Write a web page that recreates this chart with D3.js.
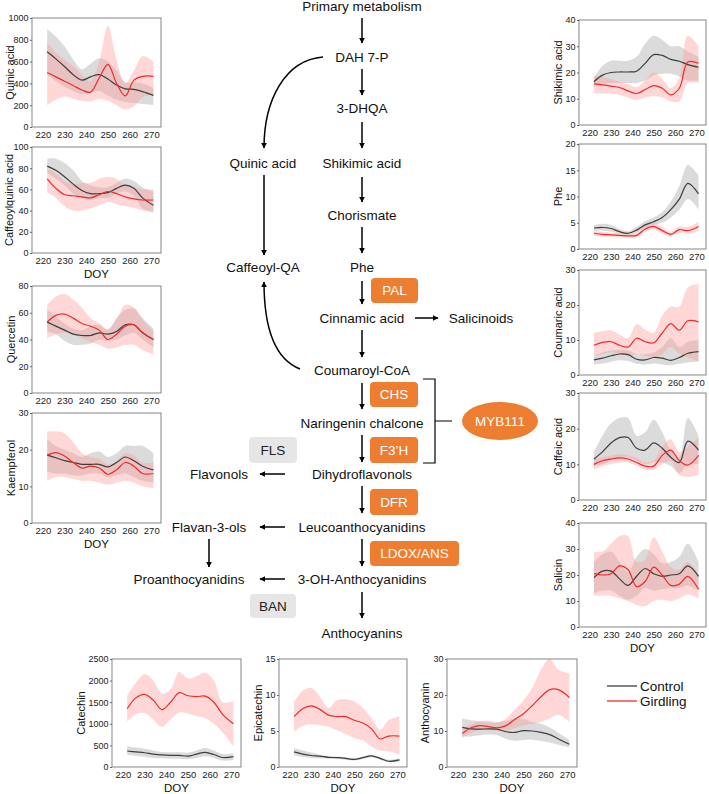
<!DOCTYPE html>
<html>
<head>
<meta charset="utf-8">
<script src="https://cdn.jsdelivr.net/npm/d3@7"></script>
<style>
  body { margin: 0; background: #fff; }
  text { font-family: "Liberation Sans", Arial, sans-serif; }
</style>
</head>
<body>
<div id="chart"></div>
<script>
// sampling days and axis ticks
const doy = [222, 226, 230, 234, 238, 242, 246, 250, 254, 258, 262, 266, 271];
const doyTicks = [220, 230, 240, 250, 260, 270];

// Quinic acid
const quinicTicks = [0, 200, 400, 600, 800, 1000];
const quinicCtrl   = [690, 625, 555, 480, 430, 460, 480, 440, 385, 350, 345, 325, 290];
const quinicCtrlLo = [480, 420, 370, 330, 300, 320, 330, 290, 250, 230, 220, 210, 200];
const quinicCtrlHi = [900, 830, 740, 620, 530, 580, 630, 600, 520, 410, 410, 400, 360];
const quinicGird   = [500, 460, 420, 380, 340, 320, 450, 575, 400, 285, 430, 465, 465];
const quinicGirdLo = [200, 250, 280, 260, 240, 235, 260, 240, 200, 160, 190, 270, 300];
const quinicGirdHi = [780, 680, 620, 560, 480, 420, 600, 930, 620, 400, 520, 650, 600];

// Caffeoylquinic acid
const cqaTicks = [0, 20, 40, 60, 80, 100];
const cqaCtrl   = [82, 78, 72, 65, 59, 56, 56, 57, 61, 64, 61, 52, 45];
const cqaCtrlLo = [76, 70, 64, 56, 52, 50, 52, 52, 56, 58, 54, 42, 38];
const cqaCtrlHi = [89, 89, 85, 78, 68, 64, 62, 62, 66, 70, 68, 62, 58];
const cqaGird   = [70, 61, 55, 54, 53, 52, 55, 58, 56, 53, 51, 50, 50];
const cqaGirdLo = [57, 52, 44, 40, 40, 42, 45, 48, 46, 44, 43, 40, 40];
const cqaGirdHi = [80, 75, 68, 65, 66, 66, 70, 72, 70, 64, 62, 60, 60];

// Quercetin
const quercTicks = [0, 20, 40, 60, 80];
const quercCtrl   = [53, 50, 47, 44, 43, 43, 45, 44, 46, 51, 51, 45, 40];
const quercCtrlLo = [46, 44, 39, 36, 36, 37, 40, 39, 40, 43, 45, 40, 34];
const quercCtrlHi = [62, 57, 52, 48, 47, 50, 51, 47, 56, 62, 63, 56, 48];
const quercGird   = [53, 58, 59, 56, 52, 50, 47, 40, 44, 50, 51, 45, 40];
const quercGirdLo = [41, 44, 45, 44, 41, 38, 36, 33, 34, 36, 36, 32, 29];
const quercGirdHi = [66, 72, 74, 70, 64, 56, 52, 48, 55, 66, 64, 55, 46];

// Kaempferol
const kaempTicks = [0, 10, 20, 30];
const kaempCtrl   = [18.5, 17.8, 17, 16.5, 16, 16, 16, 15.3, 16.5, 18, 17, 15.5, 14.5];
const kaempCtrlLo = [14, 13.5, 13.5, 13, 13, 13.5, 13.5, 12.5, 13, 13.5, 12.5, 11.5, 11];
const kaempCtrlHi = [23, 21, 20, 19, 18, 19, 19.5, 18, 19, 21, 21, 21, 19];
const kaempGird   = [18.5, 19.2, 18.3, 16.5, 15, 15.5, 15, 13.3, 14.5, 16.5, 15.5, 13.5, 13.5];
const kaempGirdLo = [11.5, 12.5, 12.5, 12, 11.5, 11.5, 11, 10.5, 11, 11.5, 11, 10, 9.5];
const kaempGirdHi = [25, 25, 24.5, 22, 19, 18, 17.5, 16, 17, 19, 18.5, 16.5, 16.5];

// Shikimic acid
const shikTicks = [0, 10, 20, 30, 40];
const shikCtrl   = [16.5, 19, 20, 20.2, 20.2, 20.5, 23.5, 26.8, 26.5, 25, 24.3, 23, 22];
const shikCtrlLo = [14.5, 15.5, 16, 16, 16, 16, 17, 19, 19.5, 19.5, 18.5, 17, 17];
const shikCtrlHi = [18, 22.5, 24.5, 24.5, 24.5, 26, 31, 34, 32.5, 30, 30, 28, 26];
const shikGird   = [15.7, 15.3, 14.8, 14.3, 13, 12, 13.5, 15, 14, 11.5, 14, 24, 23.5];
const shikGirdLo = [12, 12, 12, 11.5, 10.5, 9.5, 10.5, 11, 10.5, 9, 9, 16, 16];
const shikGirdHi = [19, 18.5, 17.5, 16.5, 15.5, 14.5, 17, 20, 17.5, 14, 18, 34, 30];

// Phe
const pheTicks = [0, 5, 10, 15, 20];
const pheCtrl   = [4, 4.1, 3.9, 3.3, 3.0, 3.6, 4.6, 5.2, 6, 7.5, 9.5, 12.5, 10.5];
const pheCtrlLo = [3.4, 3.5, 3.3, 2.9, 2.7, 3.1, 4, 4.6, 5, 6, 7.5, 9.5, 7.5];
const pheCtrlHi = [4.5, 4.8, 4.6, 3.8, 3.4, 4.2, 5.3, 6, 7, 9, 12, 16, 14];
const pheGird   = [3, 2.8, 2.7, 2.6, 2.5, 2.6, 3.8, 4.3, 3.5, 2.8, 3.7, 3.5, 4.3];
const pheGirdLo = [2.5, 2.4, 2.3, 2.2, 2.2, 2.2, 3.2, 3.7, 2.9, 2.4, 3.1, 2.9, 3.5];
const pheGirdHi = [3.5, 3.3, 3.1, 3, 2.9, 3, 4.3, 5, 4.2, 3.3, 4.3, 4.2, 5.2];

// Coumaric acid
const coumTicks = [0, 10, 20, 30];
const coumCtrl   = [4.3, 4.8, 5.5, 6, 5.8, 4.5, 4.3, 5, 4.8, 4.2, 5, 6.2, 6.7];
const coumCtrlLo = [3, 3.3, 3.8, 4.2, 4, 3.2, 3, 3.3, 3, 2.8, 3.2, 3.6, 3.8];
const coumCtrlHi = [5.5, 6.5, 7, 7.2, 7, 6, 6, 6.5, 8, 10.5, 8, 9.5, 10];
const coumGird   = [8.5, 9.3, 9.5, 8.5, 8, 10.5, 9.5, 9.2, 12, 14.7, 12.8, 15.5, 15.2];
const coumGirdLo = [5.5, 6, 6.5, 6, 5.5, 6, 5.5, 5, 6, 8, 6, 5, 4];
const coumGirdHi = [12, 12.5, 12.8, 11.5, 10.5, 14.5, 13, 12, 17, 19.5, 19.5, 25, 26];

// Caffeic acid
const cafTicks = [0, 10, 20, 30];
const cafCtrl   = [11.5, 13.5, 16, 17.5, 17.5, 14.5, 14, 16, 14.5, 12, 10.5, 16.5, 14];
const cafCtrlLo = [9.5, 10, 11, 12, 12, 11, 10, 10.5, 10.5, 9.5, 7.5, 10, 10];
const cafCtrlHi = [13.5, 18, 21.5, 23, 23, 18, 19, 22.5, 19, 14, 12, 23, 18];
const cafGird   = [10, 11, 11.5, 11.8, 11.5, 10.5, 9.5, 9.5, 12.5, 14, 11, 9.8, 12.5];
const cafGirdLo = [8.5, 9.5, 10, 10.5, 10.5, 9.5, 8.5, 8.5, 10, 11, 7, 6.5, 7];
const cafGirdHi = [11.5, 12, 12.5, 12.8, 12.5, 11.8, 10.5, 11, 15, 17, 13.5, 15, 17.5];

// Salicin
const salTicks = [0, 10, 20, 30, 40];
const salCtrl   = [19, 21.5, 21.5, 18.5, 16, 19.5, 22.5, 20.5, 19.5, 20, 20.5, 23.5, 19.5];
const salCtrlLo = [13, 14, 14, 12, 10.5, 12, 15, 14, 14.5, 15, 15, 16, 14];
const salCtrlHi = [25, 28, 29, 25, 21, 27, 30, 28, 24.5, 25, 27, 32, 25];
const salGird   = [20.5, 20, 20.5, 23.5, 22, 15.5, 17.5, 23, 20, 16, 16.5, 19.5, 14.5];
const salGirdLo = [12, 12, 12, 11, 10, 8.5, 8, 10, 10.5, 10, 11, 12.5, 11];
const salGirdHi = [29, 29, 32, 35, 35, 25, 26, 34.5, 29, 23, 22, 25, 20];

// Catechin
const catTicks = [0, 500, 1000, 1500, 2000, 2500];
const catCtrl   = [370, 350, 330, 300, 280, 270, 270, 250, 300, 340, 290, 220, 240];
const catCtrlLo = [280, 260, 240, 210, 200, 190, 190, 180, 210, 250, 210, 150, 160];
const catCtrlHi = [480, 450, 420, 380, 350, 340, 340, 330, 380, 440, 380, 300, 320];
const catGird   = [1350, 1600, 1680, 1550, 1330, 1500, 1720, 1650, 1630, 1640, 1500, 1220, 1000];
const catGirdLo = [1050, 1220, 1250, 1100, 930, 1100, 1260, 1240, 1180, 1130, 1000, 800, 480];
const catGirdHi = [1650, 1950, 2150, 2000, 1700, 1800, 2200, 2050, 2100, 2180, 2000, 1500, 1520];

// Epicatechin
const epiTicks = [0, 5, 10, 15];
const epiCtrl   = [2.1, 1.8, 1.6, 1.5, 1.35, 1.3, 1.2, 1.05, 1.3, 1.55, 1.2, 0.8, 1.0];
const epiCtrlLo = [1.6, 1.4, 1.25, 1.2, 1.15, 1.1, 1.0, 0.9, 1.1, 1.35, 1.0, 0.65, 0.8];
const epiCtrlHi = [2.6, 2.3, 2.0, 1.7, 1.5, 1.45, 1.35, 1.2, 1.45, 1.7, 1.35, 1.0, 1.2];
const epiGird   = [7.0, 8.1, 8.5, 8.0, 7.2, 7.0, 7.0, 6.5, 6.1, 5.3, 3.9, 4.3, 4.3];
const epiGirdLo = [4.9, 5.7, 5.9, 5.8, 5.6, 5.1, 4.6, 4.0, 3.7, 2.8, 2.3, 2.2, 1.7];
const epiGirdHi = [9.1, 10.6, 11, 9.8, 8.2, 9.3, 9.4, 9.1, 8.2, 6.8, 5.2, 6.5, 7.0];

// Anthocyanin
const anthTicks = [0, 10, 20, 30];
const anthCtrl   = [11, 10.6, 10.5, 10.6, 10.5, 9.8, 9.6, 10.1, 10, 9.6, 9.0, 7.8, 6.3];
const anthCtrlLo = [8.5, 8.5, 8.8, 9, 8.8, 7.8, 7.3, 7.5, 7.6, 7.2, 6.8, 6.2, 5.5];
const anthCtrlHi = [13.5, 13, 12.8, 12.8, 12.5, 12.8, 13.5, 13.3, 12.5, 12, 11, 9.5, 7.5];
const anthGird   = [9.3, 10.9, 11.5, 11.2, 10.9, 11.5, 13.2, 14.8, 17, 19.5, 21.5, 21.5, 19.3];
const anthGirdLo = [8, 9.5, 10.3, 10.3, 10, 10, 10.8, 11.5, 12, 12.5, 13.5, 14.5, 12.5];
const anthGirdHi = [10.5, 11.8, 12.5, 12.3, 12.3, 13.5, 16, 18.5, 22, 27, 30, 27, 26];

const seriesNames = ["Control", "Girdling"];

const W = 709, H = 794;
const ctrlColor = "#3d3d3d", girdColor = "#f02a2a", orange = "#ed7d31";
const FONT = '"Liberation Sans", Arial, sans-serif';

const svg = d3.select("#chart").append("svg")
  .attr("width", W).attr("height", H);
svg.append("rect").attr("width", W).attr("height", H).attr("fill", "#fff");

// panel layout (position of plot box, label offset)
const panels = [
  {label: "Quinic acid", ticks: quinicTicks, c: [quinicCtrl, quinicCtrlLo, quinicCtrlHi], g: [quinicGird, quinicGirdLo, quinicGirdHi], x: 32, y: 18, w: 129, h: 109, doyLab: false, tdx: -22},
  {label: "Caffeoylquinic acid", ticks: cqaTicks, c: [cqaCtrl, cqaCtrlLo, cqaCtrlHi], g: [cqaGird, cqaGirdLo, cqaGirdHi], x: 32, y: 147, w: 129, h: 106, doyLab: true, tdx: -23},
  {label: "Quercetin", ticks: quercTicks, c: [quercCtrl, quercCtrlLo, quercCtrlHi], g: [quercGird, quercGirdLo, quercGirdHi], x: 32, y: 286, w: 129, h: 107, doyLab: false, tdx: -21},
  {label: "Kaempferol", ticks: kaempTicks, c: [kaempCtrl, kaempCtrlLo, kaempCtrlHi], g: [kaempGird, kaempGirdLo, kaempGirdHi], x: 32, y: 413, w: 129, h: 110, doyLab: true, tdx: -21},
  {label: "Shikimic acid", ticks: shikTicks, c: [shikCtrl, shikCtrlLo, shikCtrlHi], g: [shikGird, shikGirdLo, shikGirdHi], x: 579, y: 20, w: 127, h: 105, doyLab: false, tdx: -21},
  {label: "Phe", ticks: pheTicks, c: [pheCtrl, pheCtrlLo, pheCtrlHi], g: [pheGird, pheGirdLo, pheGirdHi], x: 579, y: 144, w: 127, h: 105, doyLab: false, tdx: -21},
  {label: "Coumaric acid", ticks: coumTicks, c: [coumCtrl, coumCtrlLo, coumCtrlHi], g: [coumGird, coumGirdLo, coumGirdHi], x: 579, y: 270, w: 127, h: 105, doyLab: false, tdx: -21},
  {label: "Caffeic acid", ticks: cafTicks, c: [cafCtrl, cafCtrlLo, cafCtrlHi], g: [cafGird, cafGirdLo, cafGirdHi], x: 579, y: 393, w: 127, h: 107, doyLab: false, tdx: -21},
  {label: "Salicin", ticks: salTicks, c: [salCtrl, salCtrlLo, salCtrlHi], g: [salGird, salGirdLo, salGirdHi], x: 579, y: 523, w: 127, h: 104, doyLab: true, tdx: -21},
  {label: "Catechin", ticks: catTicks, c: [catCtrl, catCtrlLo, catCtrlHi], g: [catGird, catGirdLo, catGirdHi], x: 112, y: 659, w: 129, h: 108, doyLab: true, tdx: -31},
  {label: "Epicatechin", ticks: epiTicks, c: [epiCtrl, epiCtrlLo, epiCtrlHi], g: [epiGird, epiGirdLo, epiGirdHi], x: 279, y: 659, w: 128, h: 108, doyLab: true, tdx: -21},
  {label: "Anthocyanin", ticks: anthTicks, c: [anthCtrl, anthCtrlLo, anthCtrlHi], g: [anthGird, anthGirdLo, anthGirdHi], x: 447, y: 659, w: 130, h: 108, doyLab: true, tdx: -22}
];

panels.forEach(function(p, k) {
  const x = d3.scaleLinear().domain([215, 274.5]).range([p.x, p.x + p.w]);
  const y = d3.scaleLinear().domain([0, p.ticks[p.ticks.length - 1]]).range([p.y + p.h, p.y]);
  const g = svg.append("g");

  g.append("clipPath").attr("id", "clip" + k)
    .append("rect").attr("x", p.x).attr("y", p.y).attr("width", p.w).attr("height", p.h);

  const band = (lo, hi) => d3.area()
    .x((d, i) => x(doy[i]))
    .y0((d, i) => y(lo[i]))
    .y1((d, i) => y(hi[i]))
    .curve(d3.curveCatmullRom)(doy);
  const line = vals => d3.line()
    .x((d, i) => x(doy[i]))
    .y((d, i) => y(vals[i]))
    .curve(d3.curveCatmullRom)(doy);

  const plot = g.append("g").attr("clip-path", `url(#clip${k})`);
  plot.append("path").attr("d", band(p.c[1], p.c[2])).attr("fill", "#b0b0b0").attr("fill-opacity", 0.45);
  plot.append("path").attr("d", band(p.g[1], p.g[2])).attr("fill", "#ff9a9a").attr("fill-opacity", 0.4);
  plot.append("path").attr("d", line(p.c[0])).attr("fill", "none").attr("stroke", ctrlColor).attr("stroke-width", 1.2);
  plot.append("path").attr("d", line(p.g[0])).attr("fill", "none").attr("stroke", girdColor).attr("stroke-width", 1.2);

  // frame
  g.append("rect").attr("x", p.x).attr("y", p.y).attr("width", p.w).attr("height", p.h)
    .attr("fill", "none").attr("stroke", "#858585").attr("stroke-width", 1);

  // y axis
  const ya = g.append("g").attr("transform", `translate(${p.x},0)`)
    .call(d3.axisLeft(y).tickValues(p.ticks).tickFormat(d3.format("d")).tickSize(2).tickPadding(1.5));
  ya.select(".domain").remove();
  ya.selectAll("line").attr("stroke", "#666");
  ya.selectAll("text").attr("font-size", "9px").attr("fill", "#222").style("font-family", FONT);

  // x axis
  const xa = g.append("g").attr("transform", `translate(0,${p.y + p.h})`)
    .call(d3.axisBottom(x).tickValues(doyTicks).tickFormat(d3.format("d")).tickSize(0).tickPadding(4));
  xa.select(".domain").remove();
  xa.selectAll("text").attr("font-size", "9.5px").attr("fill", "#222").style("font-family", FONT);

  g.append("text")
    .attr("transform", `translate(${p.x + p.tdx},${p.y + p.h / 2}) rotate(-90)`)
    .attr("text-anchor", "middle").attr("dy", "0.35em")
    .attr("font-size", "11px").attr("fill", "#111")
    .text(p.label);

  if (p.doyLab) {
    g.append("text")
      .attr("x", p.x + p.w / 2).attr("y", p.y + p.h + 21).attr("dy", "0.35em")
      .attr("text-anchor", "middle").attr("font-size", "11.5px").attr("fill", "#111")
      .text("DOY");
  }
});

// legend
const legend = svg.append("g");
[ctrlColor, girdColor].forEach(function(col, i) {
  legend.append("line").attr("x1", 607).attr("x2", 637)
    .attr("y1", 686 + i * 15).attr("y2", 686 + i * 15)
    .attr("stroke", col).attr("stroke-width", 1.3);
  legend.append("text").attr("x", 640).attr("y", 686 + i * 15).attr("dy", "0.35em")
    .attr("font-size", "13.5px").attr("fill", "#111").text(seriesNames[i]);
});

// ---- pathway diagram ----
const path = svg.append("g");
svg.append("defs").append("marker")
  .attr("id", "head").attr("viewBox", "0 0 10 10")
  .attr("refX", 9).attr("refY", 5)
  .attr("markerWidth", 6).attr("markerHeight", 6)
  .attr("markerUnits", "userSpaceOnUse")
  .attr("orient", "auto")
  .append("path").attr("d", "M0,0 L10,5 L0,10 Z").attr("fill", "#000");

const nodes = [
  ["Primary metabolism", 362, 6], ["DAH 7-P", 362, 57], ["3-DHQA", 362, 108],
  ["Shikimic acid", 362, 163], ["Chorismate", 362, 215], ["Phe", 362, 267],
  ["Cinnamic acid", 362, 318], ["Coumaroyl-CoA", 362, 370], ["Naringenin chalcone", 362, 423],
  ["Dihydroflavonols", 362, 474], ["Leucoanthocyanidins", 362, 527], ["3-OH-Anthocyanidins", 362, 579],
  ["Anthocyanins", 362, 633], ["Quinic acid", 263, 163], ["Caffeoyl-QA", 263, 267],
  ["Salicinoids", 481, 318], ["Flavonols", 219, 474], ["Flavan-3-ols", 209, 527],
  ["Proanthocyanidins", 189, 579]
];
nodes.forEach(function(n) {
  path.append("text").attr("x", n[1]).attr("y", n[2]).attr("dy", "0.35em")
    .attr("text-anchor", "middle").attr("font-size", "13.5px").attr("fill", "#111").text(n[0]);
});

const arrows = [
  [362, 18, 362, 43], [362, 69, 362, 95], [362, 122, 362, 148], [362, 177, 362, 202],
  [362, 227, 362, 253], [362, 281, 362, 304], [362, 330, 362, 357], [362, 383, 362, 409],
  [362, 435, 362, 462], [362, 486, 362, 513], [362, 539, 362, 566], [362, 592, 362, 618],
  [264, 175, 264, 255], [415, 318, 438, 318], [285, 474, 260, 474], [285, 527, 260, 527],
  [209, 539, 209, 567], [285, 579, 260, 579]
];
arrows.forEach(function(a) {
  path.append("line").attr("x1", a[0]).attr("y1", a[1]).attr("x2", a[2]).attr("y2", a[3])
    .attr("stroke", "#000").attr("stroke-width", 1.5).attr("marker-end", "url(#head)");
});
path.append("path").attr("d", "M323,57 C285,60 264,100 264,148")
  .attr("fill", "none").attr("stroke", "#000").attr("stroke-width", 1.5).attr("marker-end", "url(#head)");
path.append("path").attr("d", "M300,369 C272,358 264,320 264,282")
  .attr("fill", "none").attr("stroke", "#000").attr("stroke-width", 1.5).attr("marker-end", "url(#head)");

// enzyme boxes
const enzymes = [
  ["PAL", 371, 278, 47, 25, orange], ["CHS", 370, 382, 48, 25, orange],
  ["F3\u2019H", 370, 437, 48, 26, orange], ["DFR", 370, 489, 48, 26, orange],
  ["LDOX/ANS", 370, 541, 89, 25, orange], ["FLS", 249, 437, 48, 26, "#e6e6e6"],
  ["BAN", 250, 594, 46, 24, "#e6e6e6"]
];
enzymes.forEach(function(e) {
  path.append("rect").attr("x", e[1]).attr("y", e[2]).attr("width", e[3]).attr("height", e[4])
    .attr("rx", 4).attr("fill", e[5]);
  path.append("text").attr("x", e[1] + e[3] / 2).attr("y", e[2] + e[4] / 2).attr("dy", "0.35em")
    .attr("text-anchor", "middle").attr("font-size", "13.5px")
    .attr("fill", e[5] === orange ? "#fff" : "#222").text(e[0]);
});

// bracket and MYB111
path.append("path").attr("d", "M423,379 L435,379 L435,463 L423,463 M435,421 L452,421")
  .attr("fill", "none").attr("stroke", "#000").attr("stroke-width", 1.2);
path.append("ellipse").attr("cx", 500).attr("cy", 421).attr("rx", 38).attr("ry", 19).attr("fill", orange);
path.append("text").attr("x", 500).attr("y", 421).attr("dy", "0.35em").attr("text-anchor", "middle")
  .attr("font-size", "13.5px").attr("fill", "#fff").text("MYB111");
</script>
</body>
</html>
